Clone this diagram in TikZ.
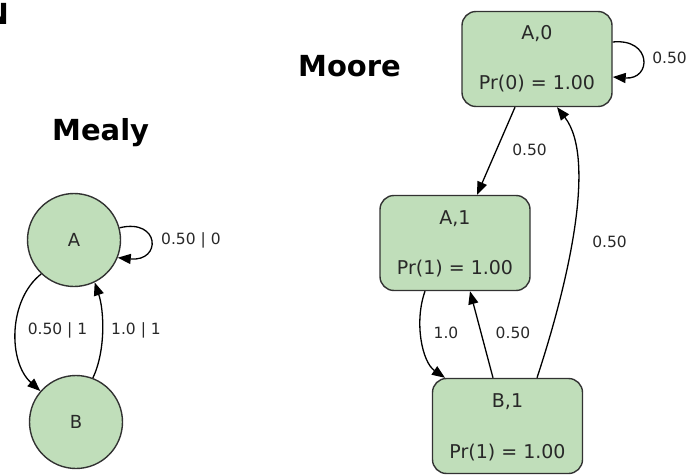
\documentclass[tikz,border=0pt]{standalone}
\usepackage{fontspec}
\setmainfont{DejaVu Sans}
\usetikzlibrary{arrows.meta}
\definecolor{stategreen}{RGB}{192,222,186}
\definecolor{edgegray}{RGB}{50,50,50}
\definecolor{txtgray}{RGB}{40,40,40}
\tikzset{
  circstate/.style={circle,draw=edgegray,line width=1.4pt,fill=stategreen,minimum size=93pt,inner sep=0pt,font=\fontsize{18}{20}\selectfont,text=txtgray},
  boxstate/.style={rectangle,rounded corners=14pt,draw=edgegray,line width=1.4pt,fill=stategreen,minimum width=150pt,minimum height=95pt,inner sep=0pt},
  boxtxt/.style={anchor=base,inner sep=0pt,font=\fontsize{19}{21}\selectfont,text=txtgray},
  lbl/.style={inner sep=0pt,font=\fontsize{15.5}{17}\selectfont,text=txtgray},
  ttl/.style={inner sep=0pt,font=\bfseries\fontsize{29}{31}\selectfont,text=black},
  conn/.style={draw=black,line width=1.3pt,-{Triangle[length=13pt,width=10pt]}},
}
\begin{document}
\begin{tikzpicture}[x=1pt,y=-1pt]
\useasboundingbox (0,0) rectangle (688,476);
% cut-off letter
\node[ttl,anchor=base east] (cutN) at (9,25) {N};
% titles
\node[ttl,anchor=base west] (mealyT) at (52,141) {Mealy};
\node[ttl,anchor=base west] (mooreT) at (298,77) {Moore};
% Mealy
\node[circstate] (A) at (74,240) {A};
\node[circstate] (B) at (76,422) {B};
\draw[conn] (A.15) .. controls (160,218) and (162,262) .. (A.-22);
\node[lbl,anchor=west] (lAA) at (161,240) {0.50 | 0};
\draw[conn] (A.-134) .. controls (8,300) and (8,362) .. (B.139);
\node[lbl] (lAB) at (57.5,330) {0.50 | 1};
\draw[conn] (B.69) .. controls (106,350) and (104,310) .. (A.-64);
\node[lbl] (lBA) at (136,330) {1.0 | 1};
% Moore
\node[boxstate] (a0) at (537,59) {};
\node[boxtxt] (a0t) at (537,40) {A,0};
\node[boxtxt] (a0b) at (537,90) {Pr(0) = 1.00};
\node[boxstate] (a1) at (455,243) {};
\node[boxtxt] (a1t) at (455,224) {A,1};
\node[boxtxt] (a1b) at (455,274) {Pr(1) = 1.00};
\node[boxstate] (b1) at (507.5,426) {};
\node[boxtxt] (b1t) at (507.5,407) {B,1};
\node[boxtxt] (b1b) at (507.5,458) {Pr(1) = 1.00};
% edges
\draw[conn] ([yshift=17pt]a0.east) .. controls (652,38) and (652,80) .. ([yshift=-18pt]a0.east);
\node[lbl] (la0a0) at (669.5,58) {0.50};
\draw[conn] ([xshift=-22pt]a0.south) -- ([xshift=22pt]a1.north);
\node[lbl] (la0a1) at (529.5,150) {0.50};
\draw[conn] ([xshift=-14.5pt]b1.north) -- ([xshift=15pt]a1.south);
\node[lbl] (lb1a1) at (513,333) {0.50};
\draw[conn] ([xshift=-30pt]a1.south) .. controls (414,322) and (422,362) .. ([xshift=-62.5pt]b1.north);
\node[lbl] (la1b1) at (446,333) {1.0};
\draw[conn] ([xshift=29.5pt]b1.north) .. controls (566,290) and (598,160) .. ([xshift=20pt]a0.south);
\node[lbl] (lb1a0) at (609.5,242) {0.50};
\end{tikzpicture}
\end{document}
